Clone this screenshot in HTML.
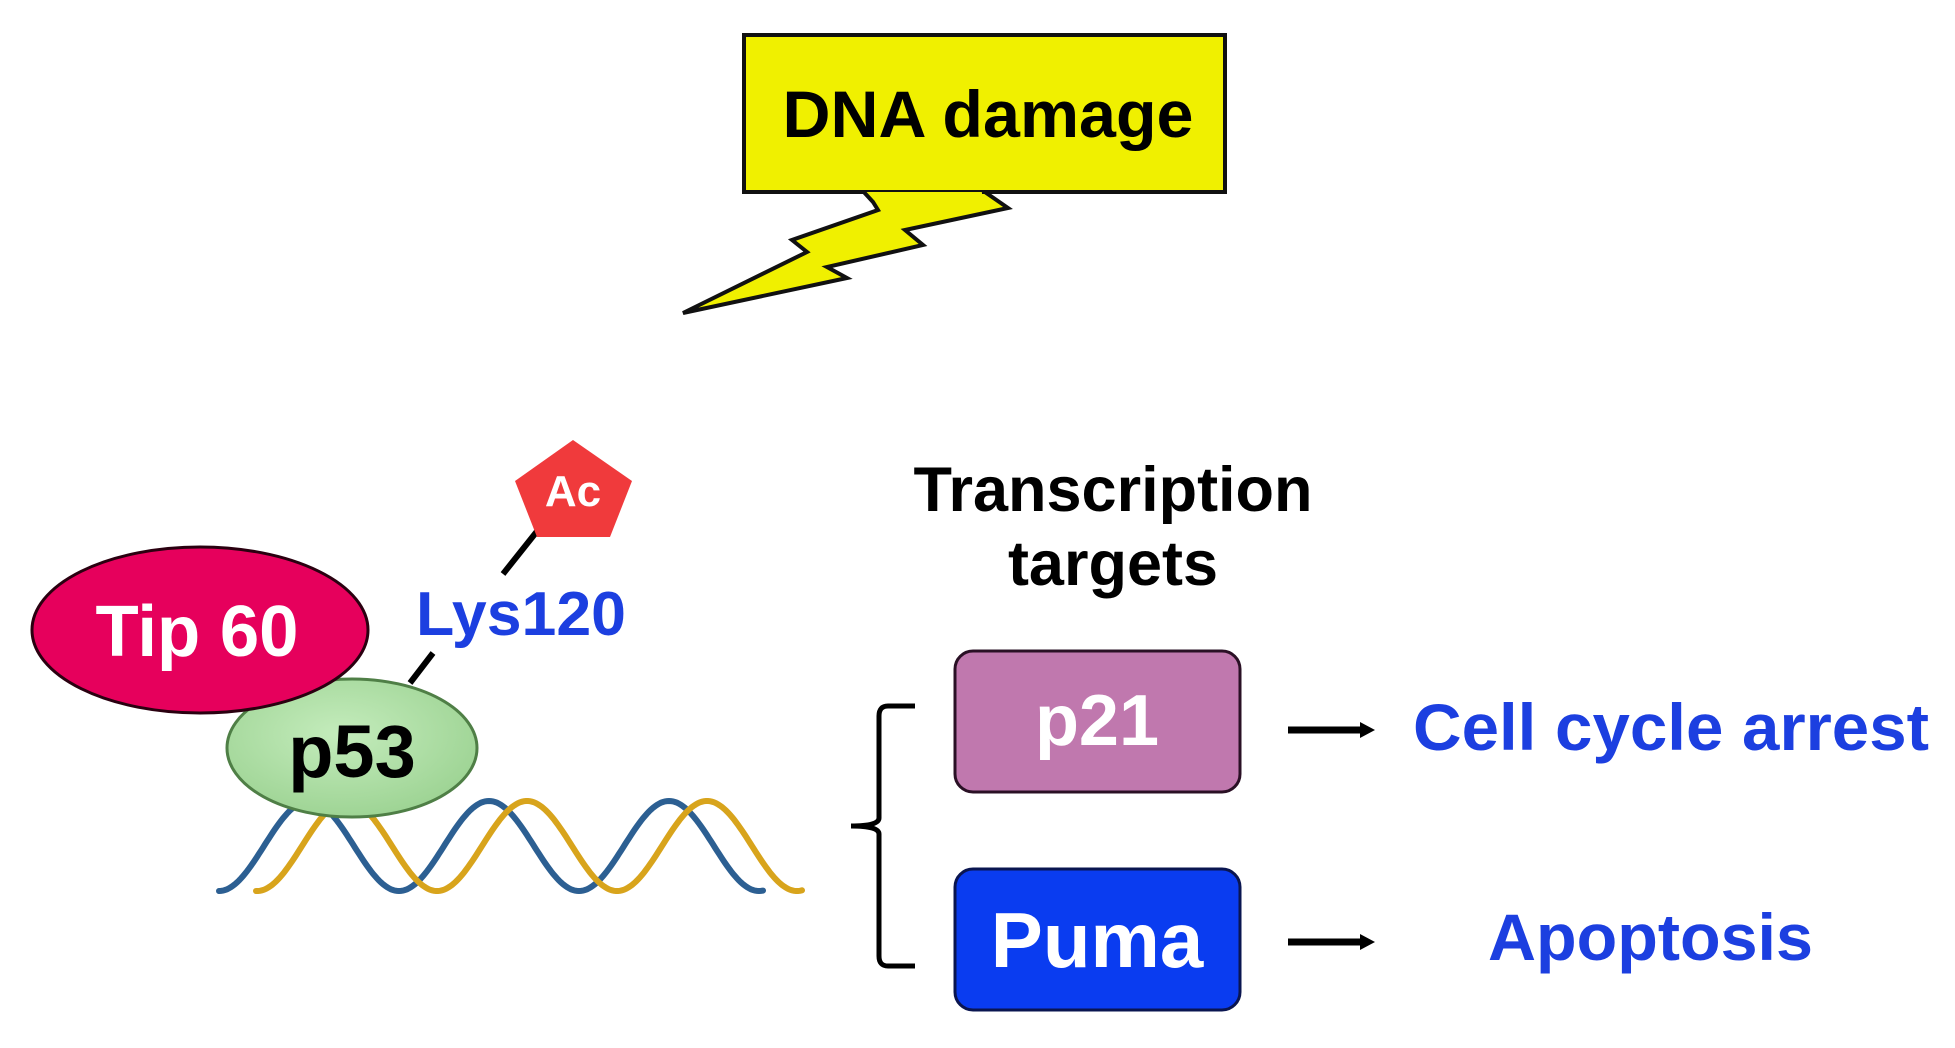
<!DOCTYPE html>
<html><head><meta charset="utf-8"><style>
html,body{margin:0;padding:0;background:#fff;}
svg{display:block;}
text{font-family:"Liberation Sans",Arial,sans-serif;font-weight:bold;}
</style></head><body>
<svg width="1955" height="1048" viewBox="0 0 1955 1048" xmlns="http://www.w3.org/2000/svg">
<defs>
<radialGradient id="g53" cx="0.45" cy="0.4" r="0.7">
<stop offset="0" stop-color="#c4ecbc"/><stop offset="1" stop-color="#98d08e"/>
</radialGradient>
</defs>
<rect x="744" y="35" width="481" height="157" fill="#f0f000" stroke="#111" stroke-width="4"/>
<text x="988" y="137" font-size="66" text-anchor="middle" textLength="411" lengthAdjust="spacingAndGlyphs" fill="#000">DNA damage</text>
<polygon points="862,190 873,202 878,210 792,240 807,252 683,313 847,278 827,267 923,245 905,230 1008,208 982,190" fill="#f0f000" stroke="#111" stroke-width="4" stroke-linejoin="miter"/>
<rect x="746" y="186" width="477" height="4" fill="#f0f000"/>
<line x1="744" y1="192" x2="862" y2="192" stroke="#111" stroke-width="4"/>
<line x1="982" y1="192" x2="1225" y2="192" stroke="#111" stroke-width="4"/>
<path id="blue" fill="none" stroke="#2c5f92" stroke-width="6" stroke-linecap="round"/>
<path id="orange" fill="none" stroke="#d8a41c" stroke-width="6" stroke-linecap="round"/>
<script>
function wave(id,x0,x1,ph){var d="";for(var x=x0;x<=x1;x+=2){var y=846-45*Math.cos(2*Math.PI*(x-ph)/180);d+=(x==x0?"M":"L")+x+","+y.toFixed(1)+" ";}document.getElementById(id).setAttribute("d",d);}
wave("blue",219,764,309);wave("orange",256,802,347);
</script>
<ellipse cx="352" cy="748" rx="125" ry="69" fill="url(#g53)" stroke="#4f7f46" stroke-width="3"/>
<text x="352" y="777" font-size="74" text-anchor="middle" fill="#000">p53</text>
<ellipse cx="200" cy="630" rx="168" ry="83" fill="#e6005c" stroke="#2a0010" stroke-width="3"/>
<text x="197" y="656" font-size="72" text-anchor="middle" textLength="203" lengthAdjust="spacingAndGlyphs" fill="#fff">Tip 60</text>
<line x1="538" y1="530" x2="503" y2="574" stroke="#000" stroke-width="6"/>
<line x1="433" y1="653" x2="410" y2="683" stroke="#000" stroke-width="6"/>
<polygon points="573,440 632,481 610,537 537,537 515,481" fill="#f03a3c"/>
<text x="573" y="506" font-size="44" text-anchor="middle" fill="#fff">Ac</text>
<text x="521" y="635" font-size="62" text-anchor="middle" textLength="210" lengthAdjust="spacingAndGlyphs" fill="#1c3fe0">Lys120</text>
<text x="1113" y="511" font-size="63" text-anchor="middle" fill="#000">Transcription</text>
<text x="1113" y="585" font-size="63" text-anchor="middle" fill="#000">targets</text>
<path d="M915,706 L888,706 Q879,706 879,716 L879,818 Q879,826 851,826 Q879,826 879,834 L879,956 Q879,966 888,966 L915,966" fill="none" stroke="#000" stroke-width="5"/>
<rect x="955" y="651" width="285" height="141" rx="18" fill="#c078ae" stroke="#2a1025" stroke-width="3"/>
<text x="1097" y="745" font-size="72" text-anchor="middle" fill="#fff">p21</text>
<rect x="955" y="869" width="285" height="141" rx="18" fill="#0a3cf0" stroke="#0a1550" stroke-width="3"/>
<text x="1097" y="967" font-size="78" text-anchor="middle" fill="#fff">Puma</text>
<line x1="1288" y1="730" x2="1362" y2="730" stroke="#000" stroke-width="7"/>
<polygon points="1360,722 1375,730 1360,738" fill="#000"/>
<line x1="1288" y1="942" x2="1362" y2="942" stroke="#000" stroke-width="7"/>
<polygon points="1360,934 1375,942 1360,950" fill="#000"/>
<text x="1413" y="750" font-size="66" textLength="516" lengthAdjust="spacingAndGlyphs" fill="#1c3fe0">Cell cycle arrest</text>
<text x="1488" y="960" font-size="66" textLength="325" lengthAdjust="spacingAndGlyphs" fill="#1c3fe0">Apoptosis</text>
</svg>
</body></html>
